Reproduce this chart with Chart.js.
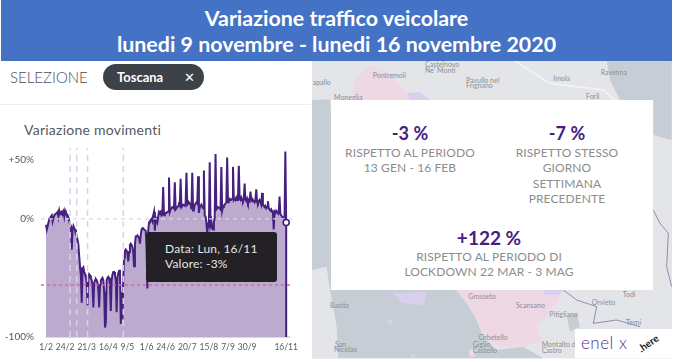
<!DOCTYPE html>
<html>
<head>
<meta charset="utf-8">
<script src="https://cdn.jsdelivr.net/npm/chart.js@4/dist/chart.umd.min.js"></script>
<style>
  html, body { margin: 0; padding: 0; background: #fff; overflow: hidden; }
  body { width: 675px; height: 362px; position: relative; font-family: Lato, sans-serif; }
  .abs { position: absolute; }
  #header { left: 1px; top: 0; width: 671px; height: 61px; background: #4472c4; color: #fff; text-align: center;
            font-weight: 700; font-size: 21.4px; line-height: 26px; padding-top: 5px; box-sizing: border-box; }
  #sel { left: 10px; top: 68px; font-size: 15px; color: #4a4d52; font-weight: 300; }
  #pill { left: 103px; top: 64px; width: 101px; height: 26px; border-radius: 13px; background: #3d4249; color: #fff;
          font-size: 13px; font-weight: 700; line-height: 26px; }
  #rule { left: 0; top: 104px; width: 311px; height: 1px; background: #eeeeee; }
  #chartTitle { left: 24px; top: 121px; font-size: 14px; letter-spacing: 0.25px; color: #55585e; }
  #wrap { left: 0; top: 135px; width: 310px; height: 220px; }
  #tip { left: 146px; top: 232px; width: 131px; height: 50px; background: #232126; border-radius: 3px; color: #e6e6e6;
         font-size: 12px; line-height: 15px; padding: 9px 0 0 19px; box-sizing: border-box; letter-spacing: 0.2px; }
  #card { left: 331px; top: 100px; width: 322px; height: 190px; background: #fff; }
  .num { position: absolute; text-align: center; color: #46207f; font-weight: 700; font-size: 18px; line-height: 20px; }
  .txt { position: absolute; text-align: center; color: #8d8d8d; font-size: 12px; line-height: 15.3px; letter-spacing: 0.1px; }
  #logo { left: 575px; top: 329px; width: 97px; height: 29px; background: #fff; }
</style>
</head>
<body>
<svg class="abs" style="left:310px;top:60px" width="365" height="302" viewBox="0 0 1095 906" font-family="Lato, sans-serif" font-size="21" fill="#8b8f96">
  <rect x="6" y="0" width="1080" height="895" fill="#e3e5e9"/>
  <polygon points="6,120 60,118 70,250 80,690 120,895 6,895" fill="#c6cdd5"/>
  <polygon points="60,690 440,690 470,730 500,780 520,830 560,870 640,860 700,895 120,895" fill="#c6cdd5"/>
  <polygon points="890,0 1085,0 1085,240 1030,225 1030,120 930,120 900,60" fill="#c6cdd5"/>
  <polygon points="6,630 50,620 60,690 80,800 85,895 6,895" fill="#e3e5e9"/>
  <polygon points="130,60 180,15 240,40 290,100 300,120 130,120" fill="#eed8e4"/>
  <polygon points="290,100 330,95 360,120 300,120" fill="#d9d0ec"/>
  <polygon points="440,690 760,690 720,760 680,800 695,840 640,860 560,860 520,825 500,780 470,730" fill="#eed8e4"/>
  <polygon points="700,690 760,690 745,705 705,705" fill="#d9d0ec"/>
  <polygon points="250,700 350,695 342,735 275,730" fill="#d9d0ec"/>
  <circle cx="240" cy="786" r="8" fill="#d9d0ec"/>
  <circle cx="310" cy="888" r="7" fill="#d9d0ec"/>
  <polygon points="475,870 490,865 495,890 480,890" fill="#eed8e4"/>
  <polygon points="770,770 800,760 810,800 780,815" fill="#c6cdd5"/>
  <polyline points="1030,450 1050,490 1075,520 1070,620 1085,680" fill="none" stroke="#6f5a96" stroke-width="2"/>
  <polyline points="760,690 800,720 860,740 850,790 920,780 990,800" fill="none" stroke="#6f5a96" stroke-width="2"/>
  <polyline points="610,0 720,70 880,90 1030,225" fill="none" stroke="#f2f3f5" stroke-width="5"/>
  <text x="188" y="55">Pontremoli</text>
  <text x="345" y="22">Castelnovo</text>
  <text x="345" y="40">Ne' Monti</text>
  <text x="468" y="68">Pavullo nel</text>
  <text x="468" y="84">Frignano</text>
  <text x="730" y="64">Imola</text>
  <text x="872" y="45">Ravenna</text>
  <text x="828" y="117">Forlì</text>
  <text x="8" y="74">apallo</text>
  <text x="72" y="120">Moneglia</text>
  <text x="475" y="718">Grosseto</text>
  <text x="618" y="744">Scansano</text>
  <text x="718" y="772">Pitigliano</text>
  <text x="506" y="840">Orbetello</text>
  <text x="488" y="860">Giglio</text>
  <text x="488" y="878">Castello</text>
  <text x="695" y="860">Montalto di</text>
  <text x="695" y="878">Castro</text>
  <text x="938" y="710">Todi</text>
  <text x="845" y="736">Orvieto</text>
  <text x="948" y="796">Terni</text>
  <text x="60" y="744">Bastia</text>
  <text x="75" y="860">San</text>
  <text x="72" y="877">Nicolao</text>
</svg>

<div id="header" class="abs">Variazione traffico veicolare<br>lunedi 9 novembre - lunedi 16 novembre 2020</div>
<div id="sel" class="abs">SELEZIONE</div>
<div id="pill" class="abs"><span style="position:absolute;left:14px">Toscana</span><span style="position:absolute;left:81px;font-weight:400">✕</span></div>
<div id="rule" class="abs"></div>
<div id="chartTitle" class="abs">Variazione movimenti</div>
<div id="wrap" class="abs"><canvas id="chart" width="310" height="220"></canvas></div>
<div id="tip" class="abs">Data: Lun, 16/11<br>Valore: -3%</div>

<div id="card" class="abs">
  <div class="num" style="left:0;top:23px;width:158px">-3 %</div>
  <div class="txt" style="left:0;top:45px;width:158px">RISPETTO AL PERIODO<br>13 GEN - 16 FEB</div>
  <div class="num" style="left:155px;top:23px;width:162px">-7 %</div>
  <div class="txt" style="left:155px;top:45px;width:162px">RISPETTO STESSO<br>GIORNO<br>SETTIMANA<br>PRECEDENTE</div>
  <div class="num" style="left:0;top:128px;width:316px;font-size:19px">+122 %</div>
  <div class="txt" style="left:0;top:149px;width:316px">RISPETTO AL PERIODO DI<br>LOCKDOWN 22 MAR - 3 MAG</div>
</div>
<div id="logo" class="abs">
  <span class="abs" style="left:6px;top:3px;font-size:17px;color:#5a2d91;font-weight:300;letter-spacing:0.5px;white-space:nowrap">enel x</span>
  <span class="abs" style="left:62px;top:8px;font-size:10px;color:#222;font-weight:700;transform:rotate(-35deg)">.here</span>
</div>

<script>
const values = [
  -5,
  -9, -6, -3, 0, 1, 2, 3,
  -2, 1, 3, 4, 4, 5, 6,
  2, 7, 4, 5, 6, 4, 6,
  2, 7, 5, 4, 3, 1, -2,
  -5, -6, -26, -9, -6, -8, -9,
  -13, -14, -18, -22, -32, -41, -48,
  -71, -42, -41, -45, -47, -50, -54,
  -73, -51, -47, -48, -50, -52, -58,
  -75, -54, -52, -51, -52, -54, -60,
  -75, -56, -52, -51, -50, -52, -62,
  -92, -88, -52, -50, -49, -50, -56,
  -78, -52, -47, -45, -45, -47, -52,
  -79, -50, -46, -44, -43, -89, -62,
  -85, -50, -33, -27, -26, -27, -29,
  -36, -28, -22, -21, -22, -24, -28,
  -40, -22, -15, -15, -14, -15, -16,
  -21, -14, -9, -8, -8, -9, -9,
  -10, -25, -59, -10, -3, -2, -1,
  0, -2, 3, 6, -10, 1, -1,
  -3, 2, 6, 5, 6, 3, 4,
  27, 3, 4, 5, 5, 6, 6,
  35, 6, 8, 9, 10, 10, 9,
  31, 8, 9, 10, 11, 12, 11,
  34, 10, 11, 12, 12, 11, 13,
  39, 12, 13, 14, 13, 12, 8,
  39, 7, 8, 12, 13, 14, 13,
  36, 5, 10, 11, 12, 10, 9,
  41, 3, 2, -3, -12, -5, -6,
  48, -5, -2, -8, -9, -3, 1,
  55, 8, 9, 10, 10, 9, 8,
  44, 7, 10, 11, 12, 13, 14,
  52, 14, 16, 17, 16, 16, 17,
  44, 16, 17, 16, 18, 16, 17,
  45, 17, 16, 18, 16, 15, 17,
  30, 16, 15, 17, 14, 16, 15,
  23, 16, 15, 16, 15, 14, 16,
  25, 14, 13, 15, 16, 14, 12,
  22, 12, 11, 10, 11, 9, 10,
  15, 9, 8, 7, 8, 6, 7,
  -9, 6, 5, 7, 6, 5, 5,
  19, 4, 3, 2, 1, 0, -1,
  57, -3
];
const tickDays = [0, 23, 49, 75, 98, 121, 144, 170, 196, 219, 242, 289];
const tickNames = ['1/2', '24/2', '21/3', '16/4', '9/5', '1/6', '24/6', '20/7', '15/8', '7/9', '30/9', '16/11'];
const yTicks = [-100, 0, 50];
const yNames = ['-100%', '0%', '+50%'];
const markerDays = [29, 37, 50, 93];   // vertical dashed lines
const lastDay = 289;
const lastValue = -3;
const refValue = -56;                  // pink dashed line

const linePoints = values.map((v, i) => ({ x: i, y: v }));
linePoints.push({ x: lastDay, y: -100 }); // the line falls to the axis at its end

const datasets = [
  {
    data: [{ x: lastDay, y: lastValue }],
    pointRadius: 3,
    pointBackgroundColor: '#ffffff',
    pointBorderColor: '#3c1a78',
    pointBorderWidth: 1.5,
    showLine: false
  },
  { data: [{ x: -6, y: 0 }, { x: 296, y: 0 }], borderColor: '#dcd6ea', borderWidth: 1.2, borderDash: [4, 4], pointRadius: 0 },
  { data: [{ x: -6, y: refValue }, { x: 296, y: refValue }], borderColor: '#ec5c9f', borderWidth: 1.5, borderDash: [3, 3], pointRadius: 0 }
];
markerDays.forEach(function (d) {
  datasets.push({
    data: [{ x: d, y: -100 }, { x: d, y: 60 }],
    borderColor: '#d8d1e8',
    borderWidth: 1.5,
    borderDash: [6, 5],
    pointRadius: 0
  });
});
datasets.push({
  data: linePoints,
  borderColor: '#46207f',
  borderWidth: 2,
  backgroundColor: '#bcaacf',
  fill: 'start',
  pointRadius: 0,
  tension: 0
});
datasets.push({ data: [{ x: 0, y: -100 }, { x: 294, y: -100 }], borderColor: '#b5b5b8', borderWidth: 1, pointRadius: 0 });

new Chart(document.getElementById('chart').getContext('2d'), {
  type: 'line',
  data: { datasets: datasets },
  options: {
    responsive: false,
    animation: false,
    clip: false,
    layout: { padding: { left: 0, right: 18, top: 0, bottom: 0 } },
    plugins: { legend: { display: false }, tooltip: { enabled: false } },
    scales: {
      x: {
        type: 'linear',
        min: -6,
        max: 296,
        grid: { display: false, tickLength: 0 },
        border: { display: false },
        afterBuildTicks: function (axis) { axis.ticks = tickDays.map(d => ({ value: d })); },
        afterFit: function (axis) { axis.height = 18; },
        ticks: {
          autoSkip: false,
          maxRotation: 0,
          padding: 5,
          color: '#55585e',
          font: { family: 'Lato', size: 8.5 },
          callback: function (v) { return tickNames[tickDays.indexOf(v)]; }
        }
      },
      y: {
        min: -100,
        max: 60,
        grid: { display: false, tickLength: 0 },
        border: { display: false },
        afterBuildTicks: function (axis) { axis.ticks = yTicks.map(v => ({ value: v })); },
        afterFit: function (axis) { axis.width = 41; },
        ticks: {
          padding: 7,
          color: '#55585e',
          font: { family: 'Lato', size: 10 },
          callback: function (v) { return yNames[yTicks.indexOf(v)]; }
        }
      }
    }
  }
});
</script>
</body>
</html>
